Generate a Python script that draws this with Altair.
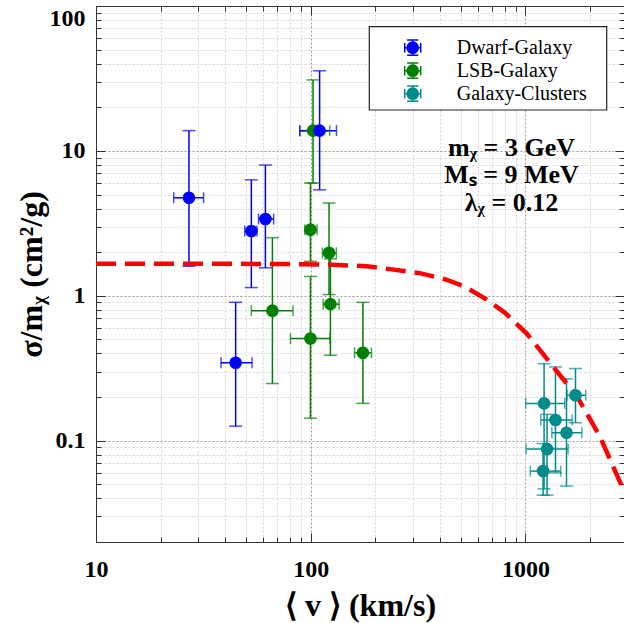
import altair as alt
import pandas as pd

groups = ["Dwarf-Galaxy", "LSB-Galaxy", "Galaxy-Clusters"]
colors = ["#0000ff", "#008000", "#008b8b"]

# Dwarf galaxies
dwarf_v    = [27.1, 44.7, 52.9, 61.5, 110.0]
dwarf_v_lo = [23.0, 38.2, 49.3, 57.1, 88.9]
dwarf_v_hi = [31.7, 53.3, 56.2, 67.2, 131.8]
dwarf_s    = [4.75, 0.345, 2.80, 3.39, 13.8]
dwarf_s_lo = [1.60, 0.126, 1.14, 1.56, 5.39]
dwarf_s_hi = [13.8, 0.902, 6.32, 7.98, 35.7]

# LSB galaxies
lsb_v    = [66.3, 99.7, 99.7, 102.5, 121.7, 123.5, 175.0]
lsb_v_lo = [52.9, 80.5, 93.8, 88.9, 113.4, 114.2, 160.0]
lsb_v_hi = [82.7, 123.0, 107.0, 122.6, 131.6, 135.7, 191.7]
lsb_s    = [0.79, 0.507, 2.86, 13.8, 1.98, 0.876, 0.404]
lsb_s_lo = [0.248, 0.143, 1.73, 6.0, 1.02, 0.389, 0.181]
lsb_s_hi = [2.52, 1.36, 6.0, 30.9, 4.37, 1.80, 0.902]

# Galaxy clusters
cl_v    = [1221, 1380, 1710, 1553, 1261, 1208]
cl_v_lo = [1003, 1178, 1563, 1327, 1007, 1053]
cl_v_hi = [1524, 1648, 1909, 1831, 1580, 1459]
cl_s    = [0.181, 0.139, 0.206, 0.1135, 0.0875, 0.0617]
cl_s_lo = [0.0465, 0.060, 0.133, 0.0486, 0.0421, 0.0421]
cl_s_hi = [0.340, 0.323, 0.315, 0.267, 0.152, 0.0955]

# model curve
curve_v = [10, 30, 88.9, 126.6, 182.3, 233.3, 321.9, 420.9, 521.6, 660.3, 801, 1014,
           1340, 1734, 2218, 2808, 2877]
curve_s = [1.667, 1.667, 1.654, 1.641, 1.597, 1.528, 1.434, 1.303, 1.157, 0.941, 0.766,
           0.549, 0.327, 0.203, 0.1076, 0.0487, 0.0448]

x_ticks = [10, 20, 30, 40, 50, 60, 70, 80, 90, 100, 200, 300, 400, 500, 600, 700, 800,
           900, 1000, 2000]
y_ticks = [0.02, 0.03, 0.04, 0.05, 0.06, 0.07, 0.08, 0.09, 0.1, 0.2, 0.3, 0.4, 0.5, 0.6,
           0.7, 0.8, 0.9, 1, 2, 3, 4, 5, 6, 7, 8, 9, 10, 20, 30, 40, 50, 60, 70, 80, 90, 100]

annot = ["m\u1d6a = 3 GeV", "M\u209b = 9 MeV", "\u03bb\u1d6a = 0.12"]

rows = []
for g, V, VL, VH, S, SL, SH in [
    ("LSB-Galaxy", lsb_v, lsb_v_lo, lsb_v_hi, lsb_s, lsb_s_lo, lsb_s_hi),
    ("Galaxy-Clusters", cl_v, cl_v_lo, cl_v_hi, cl_s, cl_s_lo, cl_s_hi),
    ("Dwarf-Galaxy", dwarf_v, dwarf_v_lo, dwarf_v_hi, dwarf_s, dwarf_s_lo, dwarf_s_hi),
]:
    for i in range(len(V)):
        rows.append(dict(group=g, v=V[i], v_lo=VL[i], v_hi=VH[i], s=S[i], s_lo=SL[i], s_hi=SH[i]))
df = pd.DataFrame(rows)
curve_df = pd.DataFrame({"v": curve_v, "s": curve_s})

SERIF = "Liberation Serif"
major = "abs(log(datum.value)/LN10 - round(log(datum.value)/LN10)) < 0.001"
tick_expr = alt.ExprRef(expr=f"({major}) ? -9 : -5")

xs = alt.Scale(type="log", domain=[10, 2877], nice=False)
ys = alt.Scale(type="log", domain=[0.02, 100], nice=False)

x_axis = alt.Axis(
    orient="bottom", values=x_ticks, labelExpr=f"({major}) ? format(datum.value, '~g') : ''",
    tickSize=tick_expr, labelPadding=24, labelFont=SERIF, labelFontSize=24,
    labelFontWeight="bold", labelColor="black", grid=True,
    gridColor=alt.ExprRef(expr=f"({major}) ? '#9a9a9a' : '#d6d6d6'"), gridDash=[2, 2],
    title="\u27e8 v \u27e9 (km/s)", titleFont=SERIF, titleFontSize=32, titleFontWeight="bold",
    titleColor="black", titleBaseline="alphabetic", titleY=73, labelFlush=False,
    domainColor="#333", tickColor="#333",
)
y_axis = alt.Axis(
    orient="left", values=y_ticks, labelExpr=f"({major}) ? format(datum.value, '~g') : ''",
    tickSize=tick_expr, labelPadding=20, labelFont=SERIF, labelFontSize=24,
    labelFontWeight="bold", labelColor="black", grid=True,
    gridColor=alt.ExprRef(expr=f"({major}) ? '#9a9a9a' : '#d6d6d6'"), gridDash=[2, 2],
    title="\u03c3/m\u1d6a (cm\u00b2/g)", titleFont=SERIF, titleFontSize=32, titleFontWeight="bold",
    titleColor="black", titleBaseline="alphabetic", titleX=-55, titleY=268, titleAngle=-90,
    labelFlush=True, domainColor="#333", tickColor="#333",
)
x_top = alt.Axis(orient="top", values=x_ticks, labels=False, grid=False, tickSize=tick_expr,
                 title=None, domainColor="#333", tickColor="#333")
y_right = alt.Axis(orient="right", values=y_ticks, labels=False, grid=False, tickSize=tick_expr,
                   title=None, domainColor="#333", tickColor="#333")

cscale = alt.Scale(domain=groups, range=colors)

sym = ("M-0.7,0A0.7,0.7,0,1,0,0.7,0A0.7,0.7,0,1,0,-0.7,0Z"
       "M0,-0.95L0,0.95M-0.7,-0.95L0.7,-0.95M-0.7,0.95L0.7,0.95"
       "M-1,0L1,0M-1,-0.6L-1,0.6M1,-0.6L1,0.6")
leg = alt.Legend(title=None, orient="none", legendX=306.7, legendY=31.7, padding=0,
                 symbolType=sym, symbolSize=256, symbolStrokeWidth=1.5,
                 labelFont=SERIF, labelFontSize=20, labelFontWeight="normal",
                 labelColor="black", labelOffset=34, rowPadding=1)

stroke_enc = alt.Stroke("group:N", scale=cscale, legend=leg)
fill_enc = alt.Fill("group:N", scale=cscale, legend=leg)

base = alt.Chart(df)

vbars = base.mark_rule(strokeWidth=1.5, clip=True).encode(
    x=alt.X("v:Q", scale=xs, axis=x_axis),
    y=alt.Y("s_lo:Q", scale=ys, axis=y_axis),
    y2="s_hi:Q",
    stroke=stroke_enc,
)
hbars = base.mark_rule(strokeWidth=1.5, clip=True).encode(
    x=alt.X("v_lo:Q", scale=xs, axis=None),
    x2="v_hi:Q",
    y=alt.Y("s:Q", scale=ys, axis=None),
    stroke=stroke_enc,
)
cap_top = base.mark_tick(orient="horizontal", size=13, thickness=1.5, clip=True).encode(
    x=alt.X("v:Q", scale=xs, axis=None), y=alt.Y("s_hi:Q", scale=ys, axis=None), fill=fill_enc)
cap_bot = base.mark_tick(orient="horizontal", size=13, thickness=1.5, clip=True).encode(
    x=alt.X("v:Q", scale=xs, axis=None), y=alt.Y("s_lo:Q", scale=ys, axis=None), fill=fill_enc)
cap_l = base.mark_tick(orient="vertical", size=11, thickness=1.5, clip=True).encode(
    x=alt.X("v_lo:Q", scale=xs, axis=None), y=alt.Y("s:Q", scale=ys, axis=None), fill=fill_enc)
cap_r = base.mark_tick(orient="vertical", size=11, thickness=1.5, clip=True).encode(
    x=alt.X("v_hi:Q", scale=xs, axis=None), y=alt.Y("s:Q", scale=ys, axis=None), fill=fill_enc)

curve = alt.Chart(curve_df).mark_line(
    color="#ff0000", strokeWidth=4.5, strokeDash=[20, 9], clip=True
).encode(
    x=alt.X("v:Q", scale=xs, axis=x_top),
    y=alt.Y("s:Q", scale=ys, axis=y_right),
)

points = base.mark_point(filled=True, size=125, strokeWidth=1.5, opacity=1, clip=True).encode(
    x=alt.X("v:Q", scale=xs, axis=None),
    y=alt.Y("s:Q", scale=ys, axis=None),
    fill=fill_enc,
    stroke=stroke_enc,
)

box = alt.Chart(pd.DataFrame({"k": [0]})).mark_rect(
    fill="white", stroke="#222", strokeWidth=1.2
).encode(x=alt.value(273.3), x2=alt.value(510.7), y=alt.value(20.7), y2=alt.value(104))

texts = []
for i, t in enumerate(annot):
    texts.append(
        alt.Chart(pd.DataFrame({"t": [t]})).mark_text(
            font=SERIF, fontSize=26, fontWeight="bold", color="black",
            align="center", baseline="alphabetic"
        ).encode(text="t:N", x=alt.value(415.5), y=alt.value([149.7, 177.3, 205][i]))
    )

chart = alt.layer(
    vbars, box, hbars, cap_top, cap_bot, cap_l, cap_r, curve, points, *texts
).resolve_axis(x="independent", y="independent").properties(
    width=528, height=536, autosize="none",
    padding={"left": 96, "top": 6, "right": 0, "bottom": 81},
).configure_view(stroke=None)

chart.save("out.html", embed_options={"renderer": "svg", "actions": False})
